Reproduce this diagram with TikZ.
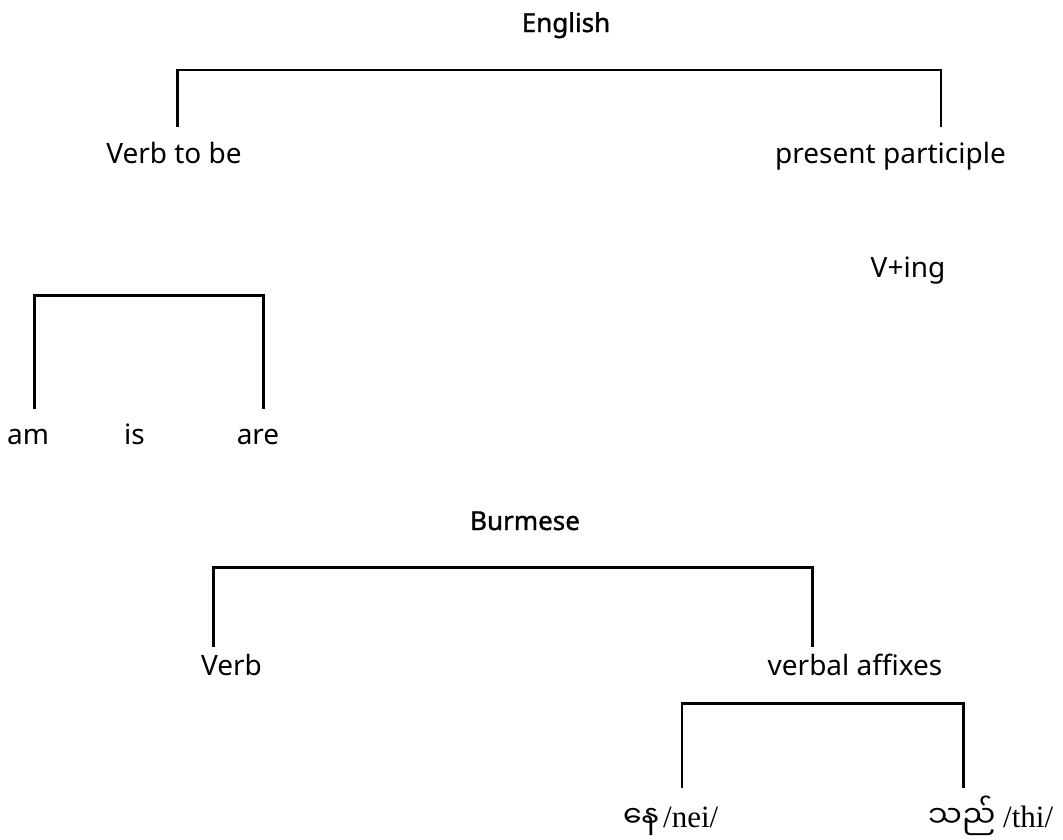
\documentclass[tikz,border=0pt]{standalone}
\usepackage{fontspec}
\setmainfont{Noto Sans}
\newfontfamily\ttlfont{Noto Sans}[FakeBold=1.3]
\newfontfamily\myfont[Script=Myanmar]{Noto Sans Myanmar UI}
\newfontfamily\serif{Liberation Serif}
\begin{document}
\begin{tikzpicture}[x=1pt,y=-1pt,
  lbl/.style={anchor=base,inner sep=0pt,font=\fontsize{28}{32}\selectfont},
  ttl/.style={anchor=base,inner sep=0pt,font=\ttlfont\fontsize{26}{30}\selectfont},
  mm/.style={anchor=base west,inner sep=0pt,font=\myfont\fontsize{30}{34}\selectfont},
  tr/.style={anchor=base west,inner sep=0pt,font=\serif\fontsize{31}{35}\selectfont},
  brk/.style={line width=2.5pt,line join=miter}]
\useasboundingbox (0,0) rectangle (1063,839);
% English
\node[ttl] (eng) at (566,32) {English};
\node[lbl] (vtb) at (174,163) {Verb to be};
\node[lbl] (pp) at (890.5,163) {present participle};
\node[lbl] (ving) at (908,277.7) {V+ing};
\coordinate (e1) at (177.5,126.5);
\coordinate (e2) at (941,126.5);
\draw[brk] (e1) -- ++(0,-56.5) -| (e2);
% am is are
\node[lbl] (am) at (28,444) {am};
\node[lbl] (is) at (134.5,444) {is};
\node[lbl] (are) at (258,444) {are};
\coordinate (a1) at (34.5,408.5);
\coordinate (a2) at (263.5,408.5);
\draw[brk] (a1) -- ++(0,-113) -| (a2);
% Burmese
\node[ttl] (bur) at (525,530) {Burmese};
\node[lbl] (verb) at (231.5,675) {Verb};
\node[lbl] (va) at (855,675) {verbal affixes};
\coordinate (b1) at (213.5,646.5);
\coordinate (b2) at (812.5,646.5);
\draw[brk] (b1) -- ++(0,-79) -| (b2);
% affixes
\coordinate (c1) at (682,788);
\coordinate (c2) at (963.5,788);
\draw[brk] (c1) -- ++(0,-84.5) -| (c2);
\node[mm] (neimm) at (623,827) {နေ};
\node[tr] (nei) at (663,827) {/nei/};
\node[mm] (thimm) at (928,827) {သည်};
\node[tr] (thi) at (1003,827) {/thi/};
\end{tikzpicture}
\end{document}
